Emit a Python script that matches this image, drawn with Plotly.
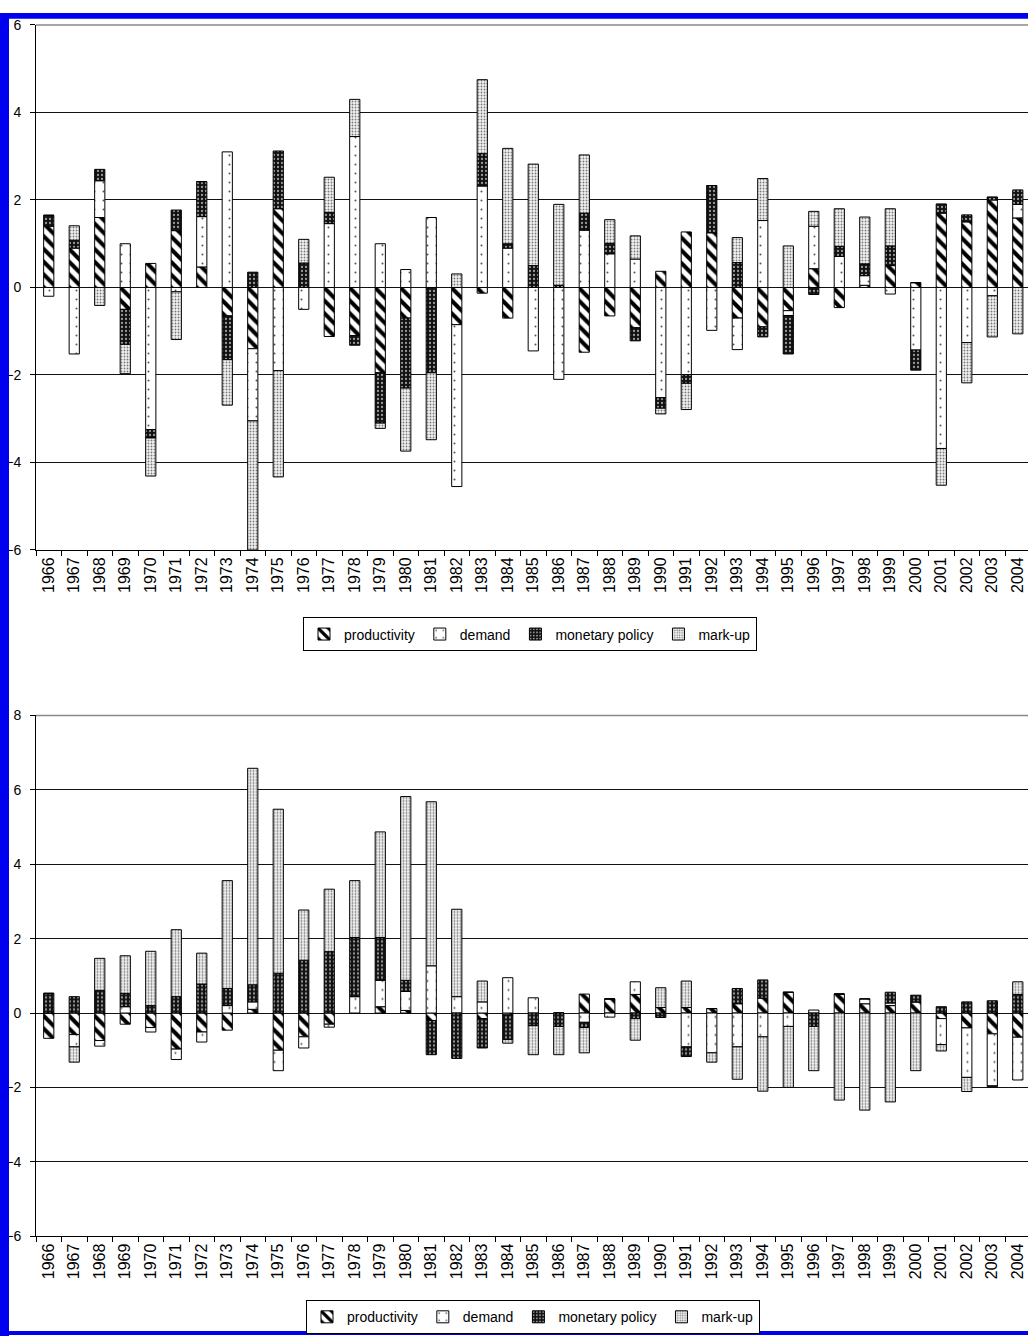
import plotly.graph_objects as go

years = [str(y) for y in range(1966, 2005)]

# ---- top panel ----
prod_top = [1.4, 0.9, 1.6, -0.5, 0.55, 1.3, 0.47, -0.65, -1.4, 1.8,
            0, -1.12, -1.1, -1.95, -0.7, 0, -0.85, -0.13, -0.7, 0,
            0, -1.48, -0.65, -0.92, 0.37, 1.27, 1.25, -0.7, -0.9, -0.53,
            0.43, -0.46, 0.05, 0.5, 0.11, 1.7, 1.5, 2.0, 1.59]
demand_top = [-0.2, -1.52, 0.84, 1.0, -3.25, -0.1, 1.15, 3.1, -1.65, -1.9,
              -0.5, 1.46, 3.45, 1.0, 0.41, 1.6, -3.7, 2.32, 0.9, -1.45,
              -2.1, 1.31, 0.77, 0.65, -2.52, -1.99, -0.98, -0.72, 1.53, -0.11,
              0.97, 0.71, 0.22, -0.15, -1.43, -3.68, -1.26, -0.19, 0.31]
mon_top = [0.25, 0.18, 0.26, -0.8, -0.19, 0.47, 0.8, -1.0, 0.35, 1.32,
           0.56, 0.26, -0.22, -1.15, -1.6, -1.95, 0, 0.74, 0.1, 0.5,
           0.05, 0.39, 0.24, -0.3, -0.24, -0.2, 1.08, 0.57, -0.23, -0.88,
           -0.16, 0.23, 0.27, 0.45, -0.46, 0.21, 0.16, 0.07, 0.33]
markup_top = [0, 0.33, -0.41, -0.67, -0.87, -1.09, 0, -1.04, -2.95, -2.43,
              0.54, 0.8, 0.85, -0.12, -1.44, -1.53, 0.31, 1.69, 2.18, 2.32,
              1.85, 1.33, 0.54, 0.53, -0.13, -0.6, 0, 0.57, 0.96, 0.95,
              0.34, 0.86, 1.07, 0.85, 0, -0.84, -0.92, -0.94, -1.06]

# ---- bottom panel ----
prod_bot = [-0.68, -0.58, -0.74, -0.3, -0.39, -0.97, -0.51, -0.46, 0.1, -1.0,
            -0.64, -0.3, 0, 0.17, 0.07, -0.2, 0, -0.15, -0.05, 0,
            0, 0.51, 0.38, 0.5, 0.15, 0.15, 0.12, 0.25, 0.4, 0.56,
            0, 0.51, 0.25, 0.2, 0.3, -0.15, -0.4, -0.56, -0.65]
demand_bot = [0, -0.33, -0.15, 0.17, -0.12, -0.28, -0.27, 0.2, 0.2, -0.55,
              -0.3, -0.08, 0.44, 0.71, 0.51, 1.27, 0.44, 0.3, 0.95, 0.41,
              0, -0.25, -0.11, 0.34, 0, -0.91, -1.07, -0.91, -0.64, -0.36,
              0.08, 0, 0.13, 0.07, 0, -0.7, -1.33, -1.4, -1.15]
mon_bot = [0.53, 0.44, 0.61, 0.36, 0.2, 0.44, 0.78, 0.46, 0.46, 1.07,
           1.42, 1.65, 1.59, 1.15, 0.3, -0.92, -1.22, -0.79, -0.66, -0.34,
           -0.36, -0.14, 0, -0.15, -0.12, -0.26, 0, 0.41, 0.49, 0,
           -0.36, 0, 0, 0.29, 0.18, 0.17, 0.3, 0.33, 0.5]
markup_bot = [0, -0.41, 0.86, 1.01, 1.46, 1.8, 0.83, 2.9, 5.82, 4.41,
              1.35, 1.68, 1.53, 2.84, 4.94, 4.41, 2.35, 0.56, -0.1, -0.78,
              -0.76, -0.68, 0, -0.58, 0.53, 0.71, -0.25, -0.87, -1.46, -1.64,
              -1.19, -2.34, -2.61, -2.39, -1.55, -0.17, -0.38, -0.02, 0.34]

series_names = ["productivity", "demand", "monetary policy", "mark-up"]

FONT = "Arial, 'Liberation Sans', sans-serif"

styles = {
    "productivity": dict(color="white", pattern=dict(shape="\\", fgcolor="black", bgcolor="white",
                                                     size=9, solidity=0.45, fillmode="replace")),
    "demand": dict(color="white", pattern=dict(shape=".", fgcolor="#555555", bgcolor="white",
                                               size=9, solidity=0.04, fillmode="replace")),
    "monetary policy": dict(color="#1a1a1a", pattern=dict(shape=".", fgcolor="#9a9a9a", bgcolor="#111111",
                                                          size=4, solidity=0.25, fillmode="replace")),
    "mark-up": dict(color="#d8d8d8", pattern=dict(shape=".", fgcolor="#7a7a7a", bgcolor="#f2f2f2",
                                                  size=3, solidity=0.3, fillmode="replace")),
}

fig = go.Figure()

panels = [
    ("x", "y", "legend", [prod_top, demand_top, mon_top, markup_top]),
    ("x2", "y2", "legend2", [prod_bot, demand_bot, mon_bot, markup_bot]),
]
for xa, ya, lg, data in panels:
    for name, vals in zip(series_names, data):
        st = styles[name]
        fig.add_trace(go.Bar(
            x=years, y=vals, name=name, xaxis=xa, yaxis=ya, legend=lg,
            marker=dict(color=st["color"], line=dict(color="black", width=1),
                        pattern=st["pattern"]),
            hoverinfo="x+y+name",
        ))

W, H = 1028, 1344
xdom = [36 / W, 1.0]
top_dom = [1 - 548.5 / H, 1 - 17.2 / H]
bot_dom = [1 - 1243 / H, 1 - 716 / H]

xaxis_common = dict(
    type="category", range=[-0.5, 38.4], showline=True, linecolor="black", linewidth=1,
    ticks="outside", tickson="boundaries", ticklen=5, tickcolor="black",
    tickangle=-90, tickfont=dict(family=FONT, size=16, color="black"),
    showgrid=False, zeroline=False, fixedrange=True,
)
yaxis_common = dict(
    showline=True, linecolor="black", linewidth=1, ticks="outside", ticklen=5,
    tickcolor="black", tickfont=dict(family=FONT, size=14, color="black"),
    ticklabelstandoff=6,
    showgrid=True, gridcolor="#111111", gridwidth=1.3,
    zeroline=True, zerolinecolor="#111111", zerolinewidth=1.3,
    dtick=2, fixedrange=True,
)

legend_common = dict(
    orientation="h", xanchor="center", yanchor="middle",
    bordercolor="black", borderwidth=1, bgcolor="white",
    font=dict(family=FONT, size=14, color="black"),
    itemwidth=30, tracegroupgap=0, itemclick=False, itemdoubleclick=False,
)

fig.update_layout(
    width=W, height=H,
    margin=dict(l=0, r=0, t=0, b=0),
    paper_bgcolor="white", plot_bgcolor="white",
    barmode="relative", bargap=0.6,
    showlegend=True,
    xaxis=dict(domain=xdom, anchor="y", **xaxis_common),
    yaxis=dict(domain=top_dom, anchor="x", range=[-6, 6], **yaxis_common),
    xaxis2=dict(domain=xdom, anchor="y2", **xaxis_common),
    yaxis2=dict(domain=bot_dom, anchor="x2", range=[-6, 8], **yaxis_common),
    legend=dict(x=530 / W, y=1 - 634 / H, **legend_common),
    legend2=dict(x=533 / W, y=1 - 1325 / H, **legend_common),
    shapes=[
        dict(type="line", xref="paper", yref="paper", x0=36 / W, x1=1, y0=1 - 17.2 / H, y1=1 - 17.2 / H,
             line=dict(color="#888888", width=1.5), layer="below"),
        dict(type="line", xref="paper", yref="paper", x0=36 / W, x1=1, y0=1 - 716 / H, y1=1 - 716 / H,
             line=dict(color="#888888", width=1.5), layer="below"),
        dict(type="rect", xref="paper", yref="paper", x0=0, x1=9 / W, y0=0, y1=1 - 5 / H,
             fillcolor="#0000ee", line=dict(width=0), layer="above"),
        dict(type="rect", xref="paper", yref="paper", x0=0, x1=1, y0=1 - 11 / H, y1=1 - 5 / H,
             fillcolor="#0000ee", line=dict(width=0), layer="above"),
        dict(type="rect", xref="paper", yref="paper", x0=0, x1=1, y0=1 - 1343 / H, y1=1 - 1339 / H,
             fillcolor="#0000ee", line=dict(width=0), layer="above"),
    ],
)

fig.write_html(
    "out.html",
    config={"displayModeBar": False},
    post_script="document.body.style.margin='0';document.body.style.padding='0';"
                "document.documentElement.style.overflow='hidden';document.body.style.overflow='hidden';",
)
